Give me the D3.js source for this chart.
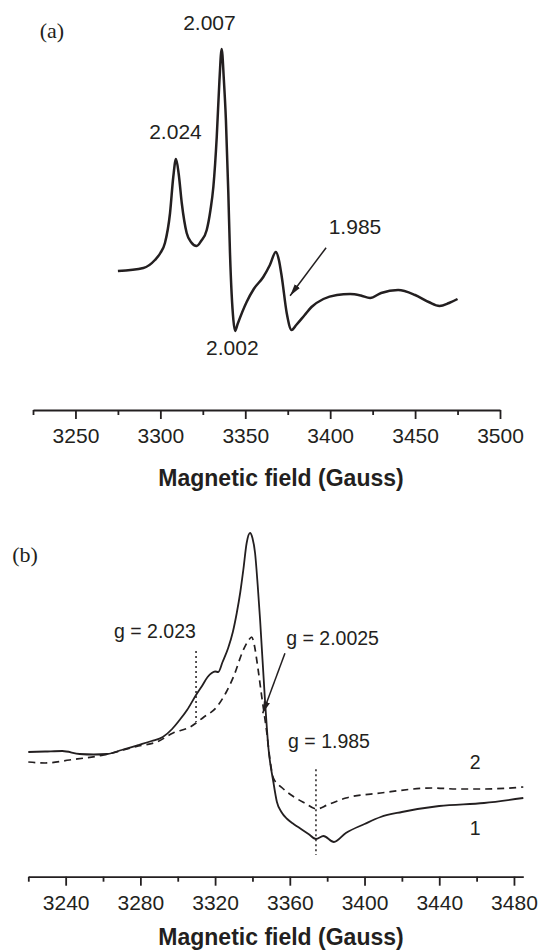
<!DOCTYPE html>
<html>
<head>
<meta charset="utf-8">
<script src="https://cdn.jsdelivr.net/npm/d3@7"></script>
<style>
  body { margin: 0; background: #fff; }
  svg { display: block; }
</style>
</head>
<body>
<div id="chart"></div>
<script>
"use strict";

// ---- Data (field in Gauss, signal in arbitrary units) ----

// Panel (a)
var fieldA = [3275, 3290, 3296.8, 3300, 3302.7, 3305.7, 3307.6, 3309.2, 3310.8, 3312.6, 3315.5, 3318, 3321.4,
  3324, 3327.3, 3329.5, 3331.2, 3333.2, 3334.8, 3336.1, 3337.4, 3338.6, 3340, 3341, 3343, 3344, 3345.5,
  3350.8, 3355, 3360.6, 3364.5, 3368, 3369.8, 3371.5, 3374.4, 3377.3, 3380, 3385, 3389, 3396, 3404,
  3411.7, 3418, 3423.5, 3430, 3440, 3450, 3458, 3464.4, 3470, 3475];
var signalA = [1, 4, 12, 19, 29, 59, 95, 113, 98, 69, 39, 30, 26,
  31, 42, 62, 85, 135, 192, 223, 192, 152, 80, 19, -48, -59, -52,
  -30, -17, -5, 7, 20, 12, -5, -41, -58, -53, -43, -35, -27, -23,
  -22, -23.5, -26, -21, -18, -23, -30, -34, -31, -27];

// Panel (b): curve 1 (solid) and curve 2 (dashed)
var fieldB1 = [3220, 3229, 3238.2, 3247.5, 3255, 3262.3, 3270, 3279, 3286, 3292, 3297, 3301, 3305, 3309.8,
  3313, 3316, 3318.2, 3320, 3321.7, 3324, 3327, 3329.5, 3331.6, 3333.5, 3335.1, 3336.9, 3338.7, 3340,
  3341.4, 3342.8, 3344.1, 3346.8, 3348.5, 3351.2, 3353.1, 3355.5, 3358.6, 3362, 3366, 3370, 3374, 3378,
  3383.6, 3390, 3400, 3408.6, 3420, 3440, 3464, 3485];
var signalB1 = [0, 0.5, 1, -2, -2.5, -2, 2, 7, 11, 15, 23, 32, 42, 57,
  66, 75, 79, 80.5, 80, 90, 104, 120, 139, 160, 182, 209, 219, 214,
  199, 167, 132, 49, 5, -30, -50, -60, -67, -72, -77, -82, -87, -84,
  -90, -81, -72, -65, -60, -54, -51, -46];

var fieldB2 = [3220, 3229, 3242, 3260.4, 3279, 3288.8, 3297.5, 3306.6, 3314, 3320.9, 3326, 3329.8, 3335.1,
  3338, 3339.6, 3341, 3342.3, 3345, 3347.7, 3349.4, 3351.2, 3356, 3362.3, 3368, 3374.4, 3380, 3390,
  3408.6, 3436.4, 3450, 3464, 3485];
var signalB2 = [-10, -11, -8, -3, 6, 10, 19, 25, 35, 45, 60, 75, 102,
  112, 115, 107, 92, 55, 19, -8, -26, -36, -45, -51, -57, -53, -46,
  -41, -36, -37, -37, -35];

// Axis ticks
var ticksA = [3250, 3300, 3350, 3400, 3450, 3500];
var minorA = [3225, 3275, 3325, 3375, 3425, 3475];
var ticksB = [3240, 3280, 3320, 3360, 3400, 3440, 3480];
var minorB = [3220, 3260, 3300, 3340, 3380, 3420, 3460];

// Annotations [field, signal]
var labelsA = [
  { text: "2.007", at: [3328.9, 241.8] },
  { text: "2.024", at: [3308.9, 133.5] },
  { text: "1.985", at: [3414.6, 37.8] },
  { text: "2.002", at: [3342.4, -82.8] }
];
var arrowA = [[3397.6, 24.3], [3376.4, -23.7]];

var labelsB = [
  { text: "g = 2.023", at: [3287.8, 114.5] },
  { text: "g = 2.0025", at: [3382.9, 107.2] },
  { text: "g = 1.985", at: [3381, 4.5] },
  { text: "2", at: [3459.2, -17.2] },
  { text: "1", at: [3459.2, -82.8] }
];
var arrowB = [[3357.4, 98.7], [3345.5, 38.7]];
var dottedB = [
  [[3309.8, 101], [3309.8, 30]],
  [[3374, -17.3], [3374, -103]]
];

// ---- Drawing ----
var W = 543, H = 952;
var sans = "'Liberation Sans', Arial, Helvetica, sans-serif";
var serif = "'Liberation Serif', 'Times New Roman', serif";
var ink = "#231f20";

let svg = d3.select("#chart").append("svg")
  .attr("width", W)
  .attr("height", H);

svg.append("defs").append("marker")
  .attr("id", "head")
  .attr("viewBox", "0 0 12 8")
  .attr("refX", 12)
  .attr("refY", 4)
  .attr("markerWidth", 12)
  .attr("markerHeight", 8)
  .attr("markerUnits", "userSpaceOnUse")
  .attr("orient", "auto")
  .append("path")
  .attr("d", "M0,0.8 L12,4 L0,7.2 Z")
  .attr("fill", ink);

function drawAxis(x, axisY, ticks, minor, titleY) {
  var g = svg.append("g").attr("transform", "translate(0," + axisY + ")");

  // minor ticks first
  g.append("g")
    .call(d3.axisBottom(x).tickValues(minor).tickSize(5).tickFormat(""))
    .call(a => a.select(".domain").remove());

  g.append("g")
    .call(d3.axisBottom(x).tickValues(ticks).tickSize(9).tickSizeOuter(0).tickPadding(9)
      .tickFormat(d3.format("d")));

  g.selectAll("line").attr("stroke", ink).attr("stroke-width", 1.8);
  g.selectAll(".domain").attr("stroke", ink).attr("stroke-width", 1.8);
  g.selectAll("text")
    .attr("fill", ink)
    .attr("font-family", sans)
    .attr("font-size", "21px");

  svg.append("text")
    .attr("x", 281)
    .attr("y", titleY)
    .attr("text-anchor", "middle")
    .attr("font-family", sans)
    .attr("font-weight", "bold")
    .attr("font-size", "23px")
    .attr("fill", ink)
    .text("Magnetic field (Gauss)");
}

function drawLabels(x, y, labels, size) {
  labels.forEach(function(l) {
    svg.append("text")
      .attr("x", x(l.at[0]))
      .attr("y", y(l.at[1]))
      .attr("text-anchor", "middle")
      .attr("font-family", sans)
      .attr("font-size", size + "px")
      .attr("fill", ink)
      .text(l.text);
  });
}

function drawArrow(x, y, pts) {
  svg.append("line")
    .attr("x1", x(pts[0][0]))
    .attr("y1", y(pts[0][1]))
    .attr("x2", x(pts[1][0]))
    .attr("y2", y(pts[1][1]))
    .attr("stroke", ink)
    .attr("stroke-width", 1.5)
    .attr("marker-end", "url(#head)");
}

// ---- Panel (a) ----
var xA = d3.scaleLinear().domain([3225, 3500]).range([33, 500]);
var yA = d3.scaleLinear().domain([-70, 230]).range([342, 42]);

var lineA = d3.line()
  .x(d => xA(d[0]))
  .y(d => yA(d[1]))
  .curve(d3.curveMonotoneX);

svg.append("path")
  .datum(d3.zip(fieldA, signalA))
  .attr("d", lineA)
  .attr("fill", "none")
  .attr("stroke", ink)
  .attr("stroke-width", 2.5)
  .attr("stroke-linejoin", "round");

drawLabels(xA, yA, labelsA, 21);
drawArrow(xA, yA, arrowA);

svg.append("text")
  .attr("x", 52)
  .attr("y", 38)
  .attr("text-anchor", "middle")
  .attr("font-family", serif)
  .attr("font-size", "22px")
  .attr("fill", ink)
  .text("(a)");

drawAxis(xA, 410, ticksA, minorA, 486);

// ---- Panel (b) ----
var xB = d3.scaleLinear().domain([3220, 3485]).range([28.3, 523.3]);
var yB = d3.scaleLinear().domain([-100, 230]).range([852, 522]);

var lineB = d3.line()
  .x(d => xB(d[0]))
  .y(d => yB(d[1]))
  .curve(d3.curveMonotoneX);

// dotted g-value markers
dottedB.forEach(function(seg) {
  svg.append("line")
    .attr("x1", xB(seg[0][0]))
    .attr("y1", yB(seg[0][1]))
    .attr("x2", xB(seg[1][0]))
    .attr("y2", yB(seg[1][1]))
    .attr("stroke", ink)
    .attr("stroke-width", 1.5)
    .attr("stroke-dasharray", "2,3");
});

svg.append("path")
  .datum(d3.zip(fieldB2, signalB2))
  .attr("d", lineB)
  .attr("fill", "none")
  .attr("stroke", ink)
  .attr("stroke-width", 1.7)
  .attr("stroke-dasharray", "7,5");

svg.append("path")
  .datum(d3.zip(fieldB1, signalB1))
  .attr("d", lineB)
  .attr("fill", "none")
  .attr("stroke", ink)
  .attr("stroke-width", 1.8)
  .attr("stroke-linejoin", "round");

drawLabels(xB, yB, labelsB, 19.5);
drawArrow(xB, yB, arrowB);

svg.append("text")
  .attr("x", 25)
  .attr("y", 562)
  .attr("text-anchor", "middle")
  .attr("font-family", serif)
  .attr("font-size", "22px")
  .attr("fill", ink)
  .text("(b)");

drawAxis(xB, 876.7, ticksB, minorB, 945);
</script>
</body>
</html>
